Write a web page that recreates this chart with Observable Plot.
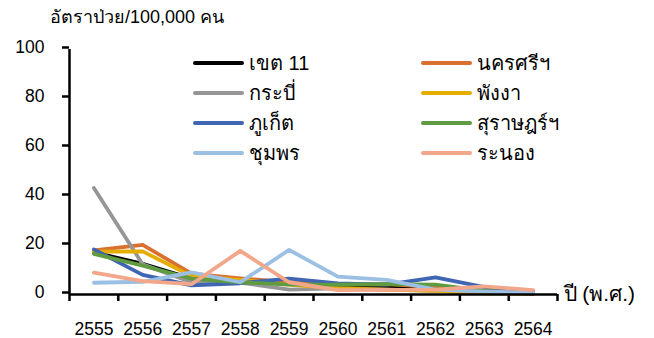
<!DOCTYPE html>
<html>
<head>
<meta charset="utf-8">
<script src="https://cdn.jsdelivr.net/npm/d3@7"></script>
<script src="https://cdn.jsdelivr.net/npm/@observablehq/plot@0.6"></script>
<style>
  html, body { margin: 0; padding: 0; background: #fff; }
  #chart { position: relative; width: 654px; height: 338px; font-family: "Liberation Sans", "Noto Sans", sans-serif; color: #000; }
  #title { height: 30px; box-sizing: border-box; padding: 6px 0 0 50px; font-size: 18px; line-height: 22px; white-space: nowrap; }
  .legend-item { position: absolute; height: 30px; display: flex; align-items: center; font-size: 20px; white-space: nowrap; }
  .legend-item .swatch { width: 51px; height: 4px; border-radius: 2px; margin-right: 5px; }
  svg { display: block; }
</style>
</head>
<body>
<div id="chart">
  <div id="title">อัตราป่วย/100,000 คน</div>
</div>
<script>
// Years (Buddhist era) on the x axis
const years = [2555, 2556, 2557, 2558, 2559, 2560, 2561, 2562, 2563, 2564];

// Series names and colours, in drawing / legend order
const provinces = ["เขต 11", "นครศรีฯ", "กระบี่", "พังงา", "ภูเก็ต", "สุราษฎร์ฯ", "ชุมพร", "ระนอง"];
const colors = ["#000000", "#d9702d", "#969696", "#e5ad00", "#3f66b2", "#5f9b40", "#9cbfe4", "#f2a68a"];

// Incidence rate per 100,000 population
const region11   = [17.2, 12.5, 6.5, 5.0, 4.5, 3.5, 3.0, 2.5, 1.5, 1.0];
const nakhonSi   = [18.0, 20.3, 8.5, 6.6, 5.0, 4.0, 4.2, 3.0, 1.5, 1.0];
const krabi      = [43.5, 12.3, 5.0, 4.8, 2.0, 2.5, 2.0, 1.5, 1.0, 0.5];
const phangnga   = [17.5, 17.6, 7.5, 6.0, 4.0, 2.5, 2.0, 1.5, 0.5, 0.2];
const phuket     = [18.4, 8.0, 3.7, 4.6, 6.5, 4.5, 4.0, 7.0, 3.0, 1.5];
const suratThani = [16.6, 11.8, 6.5, 5.0, 4.0, 4.0, 4.2, 4.0, 1.5, 0.3];
const chumphon   = [4.8, 5.2, 9.0, 5.0, 18.2, 7.3, 6.0, 2.0, 1.2, 0.8];
const ranong     = [8.9, 5.5, 4.2, 17.8, 5.0, 1.8, 1.9, 2.0, 3.3, 1.8];

const yTicks = [0, 20, 40, 60, 80, 100];
const seriesValues = [region11, nakhonSi, krabi, phangnga, phuket, suratThani, chumphon, ranong];

// Long table: one row per province and year
const data = provinces.flatMap((name, i) =>
  years.map((year, j) => ({ name, year, value: seriesValues[i][j] }))
);

// Category boundaries (ticks sit between the years)
const xStart = years[0] - 0.5;
const xEnd = years[years.length - 1] + 0.5;
const boundaries = d3.range(xStart, xEnd + 0.01, 1);

const font = "\"Liberation Sans\", \"Noto Sans\", sans-serif";

const chart = Plot.plot({
  width: 654,
  height: 308,
  marginLeft: 69,
  marginRight: 97,
  marginTop: 19,
  marginBottom: 44,
  style: { fontFamily: font, fontSize: "17px", color: "#000", background: "#fff" },
  x: { domain: [xStart, xEnd] },
  y: { domain: [0, 100] },
  color: { domain: provinces, range: colors },
  marks: [
    Plot.axisY({ ticks: yTicks, tickSize: 7, tickPadding: 18, strokeWidth: 2.5, fontSize: 17.5, dy: -2, label: null }),
    Plot.axisX({ ticks: boundaries, tickSize: 7, tickFormat: () => "", strokeWidth: 2.5, label: null }),
    Plot.axisX({ ticks: years, tickSize: 0, tickPadding: 28, tickFormat: d => String(d), fontSize: 17.5, label: null }),
    Plot.line(data, {
      x: "year", y: "value", z: "name", stroke: "name",
      strokeWidth: 3.8, strokeLinejoin: "round", strokeLinecap: "round"
    }),
    Plot.ruleX([xStart], { y1: 0, y2: 100, stroke: "#000", strokeWidth: 2.5 }),
    Plot.ruleY([0], { stroke: "#000", strokeWidth: 2.5 }),
    Plot.text(["ปี (พ.ศ.)"], {
      frameAnchor: "bottom-right", textAnchor: "start", dx: 6, dy: 6,
      fontSize: 21, fill: "#000"
    })
  ]
});

const container = document.getElementById("chart");
container.appendChild(chart);

// Legend: two columns, four rows, drawn inside the plot area
provinces.forEach((name, i) => {
  const col = i % 2, row = Math.floor(i / 2);
  const item = document.createElement("div");
  item.className = "legend-item";
  item.style.left = (col === 0 ? 193 : 421) + "px";
  item.style.top = (48 + row * 30) + "px";
  const sw = document.createElement("span");
  sw.className = "swatch";
  sw.style.background = colors[i];
  const label = document.createElement("span");
  label.textContent = name;
  item.appendChild(sw);
  item.appendChild(label);
  container.appendChild(item);
});
</script>
</body>
</html>
